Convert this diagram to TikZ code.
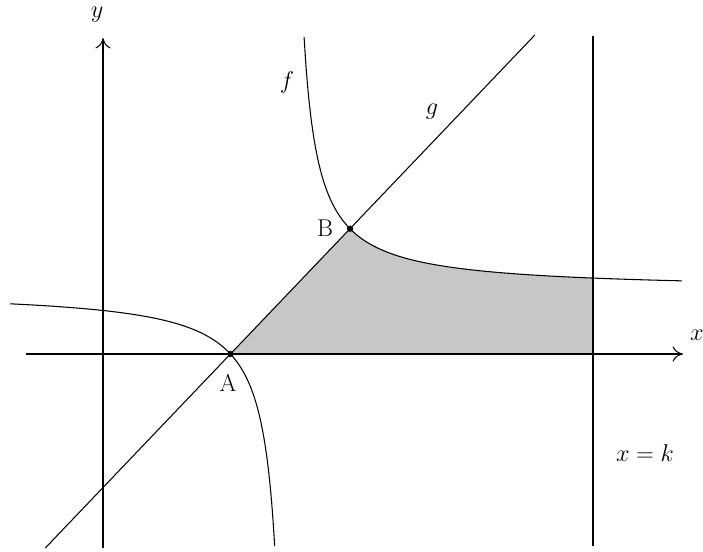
\documentclass[tikz,border=0pt]{standalone}
\usepackage{amsmath}
\usetikzlibrary{arrows.meta, calc}

\begin{document}
\begin{tikzpicture}[
    font=\LARGE,
    line width=0.75pt,
    declare function={f(\x)=1.59+2.34/(\x-4.6575);},
    axis/.style={-{To[length=2.6mm, width=3.8mm]}},
    curve/.style={smooth, samples=200},
    region/.style={fill=black!22},
    pt/.style={circle, fill=black, inner sep=0pt, minimum size=4.5pt},
  ]
  \useasboundingbox (-2.575,-4.95) rectangle (15.0,8.85);

  \coordinate (A) at (3.186,0);
  \coordinate (B) at (6.175,{f(6.175)});
  \coordinate (K) at (12.25,0);
  \coordinate (xleft)  at (-1.925,0);
  \coordinate (xright) at (14.5,0);
  \coordinate (ybot)   at (0,-4.85);
  \coordinate (ytop)   at (0,7.9);
  \coordinate (ktop)   at (12.25,7.95);
  \coordinate (kbot)   at (12.25,-4.8);
  \coordinate (gtop)   at ($(A)!2.546!(B)$);
  \coordinate (gbot)   at ($(A)!-1.549!(B)$);

  \fill[region] (A) -- (B) -- plot[curve, domain=6.175:12.25] (\x,{f(\x)}) -- (K) -- cycle;

  \draw[axis] (xleft) -- (xright);
  \draw[axis] (ybot) -- (ytop);
  \draw (kbot) -- (ktop);
  \draw (gbot) -- (gtop);
  \draw plot[curve, domain=5.027:14.475] (\x,{f(\x)});
  \draw plot[curve, domain=-2.325:4.294] (\x,{f(\x)});

  \node[pt] (ptA) at (A) {};
  \node[pt] (ptB) at (B) {};

  \node (xlab) at (14.85,0.475)  {$x$};
  \node (ylab) at (-0.15,8.48)   {$y$};
  \node (flab) at (4.6,6.8)      {$f$};
  \node (glab) at (8.225,6.05)   {$g$};
  \node (Alab) at (3.125,-0.725) {A};
  \node (Blab) at (5.55,3.15)    {B};
  \node (klab) at (13.55,-2.475) {$x=k$};
\end{tikzpicture}
\end{document}
